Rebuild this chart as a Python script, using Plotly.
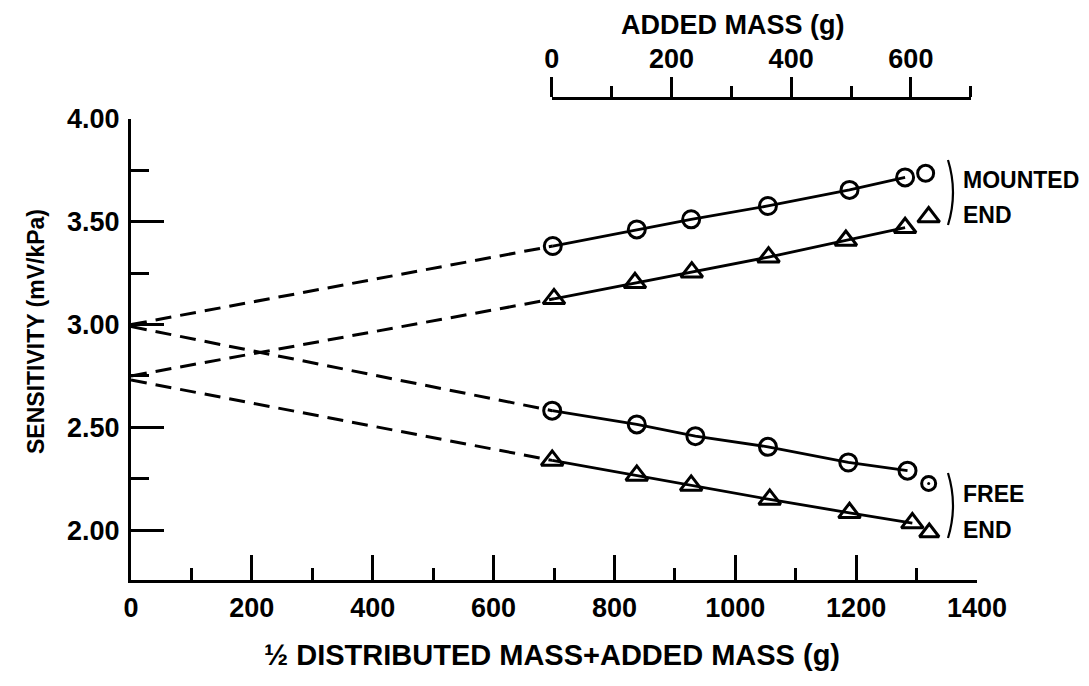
import plotly.graph_objects as go

# ---------------- data ----------------
# x: 1/2 distributed mass + added mass (g);  y: sensitivity (mV/kPa)
mounted_circle_x = [698, 837, 927, 1054, 1189, 1281]
mounted_circle_y = [3.382, 3.463, 3.512, 3.577, 3.655, 3.716]
mounted_circle_extra_x = [1315]
mounted_circle_extra_y = [3.736]

mounted_tri_x = [700, 834, 928, 1055, 1183, 1281]
mounted_tri_y = [3.125, 3.203, 3.255, 3.328, 3.409, 3.471]
mounted_tri_extra_x = [1320]
mounted_tri_extra_y = [3.523]

free_circle_x = [697, 837, 934, 1054, 1187, 1285]
free_circle_y = [2.581, 2.514, 2.457, 2.405, 2.329, 2.289]
free_circle_extra_x = [1320]
free_circle_extra_y = [2.227]

free_tri_x = [697, 837, 927, 1057, 1189, 1293]
free_tri_y = [2.339, 2.266, 2.217, 2.149, 2.084, 2.034]
free_tri_extra_x = [1321]
free_tri_extra_y = [1.988]

# extrapolated values at zero mass (dashed lines)
intercept_x = 0
intercepts = {"mc": 3.00, "fc": 2.99, "mt": 2.75, "ft": 2.73}

x_ticks = [0, 200, 400, 600, 800, 1000, 1200, 1400]
y_ticks = [2.00, 2.50, 3.00, 3.50, 4.00]
top_ticks = [0, 200, 400, 600]

FONT = "Liberation Sans, Arial, DejaVu Sans, sans-serif"
BLACK = "#000000"

fig = go.Figure()

series = [
    ("mc", mounted_circle_x, mounted_circle_y, mounted_circle_extra_x, mounted_circle_extra_y, "circle-open", 17, 16),
    ("mt", mounted_tri_x, mounted_tri_y, mounted_tri_extra_x, mounted_tri_extra_y, "triangle-up-open", 19, 19),
    ("fc", free_circle_x, free_circle_y, free_circle_extra_x, free_circle_extra_y, "circle-open", 17, 14),
    ("ft", free_tri_x, free_tri_y, free_tri_extra_x, free_tri_extra_y, "triangle-up-open", 19, 17),
]

for key, xs, ys, ex, ey, sym, size, esize in series:
    # dashed extrapolation to zero mass
    fig.add_trace(go.Scatter(
        x=[intercept_x, xs[0]], y=[intercepts[key], ys[0]], mode="lines",
        line=dict(color=BLACK, width=3, dash="16px,9px"),
        hoverinfo="skip", showlegend=False))
    # measured points joined by solid line
    fig.add_trace(go.Scatter(
        x=xs, y=ys, mode="lines+markers",
        line=dict(color=BLACK, width=2.8),
        marker=dict(symbol=sym, size=size, color=BLACK, line=dict(width=3, color=BLACK)),
        hoverinfo="skip", showlegend=False))
    # final separate point
    fig.add_trace(go.Scatter(
        x=ex, y=ey, mode="markers",
        marker=dict(symbol=sym, size=esize, color=BLACK, line=dict(width=3, color=BLACK)),
        hoverinfo="skip", showlegend=False))

# centre dot in the last free-end circle
fig.add_trace(go.Scatter(
    x=free_circle_extra_x, y=free_circle_extra_y, mode="markers",
    marker=dict(symbol="circle", size=3, color=BLACK),
    hoverinfo="skip", showlegend=False))

# dummy trace so the top axis is drawn
fig.add_trace(go.Scatter(x=[0, 700], y=[None, None], xaxis="x2", yaxis="y",
                         mode="markers", hoverinfo="skip", showlegend=False))

tickfont = dict(family=FONT, size=27, color=BLACK, weight="bold")

# the page body adds an 8 px offset; the figure is sized to fit the window
fig.update_layout(
    width=1081, height=678,
    margin=dict(l=123, r=112, t=90, b=106),
    paper_bgcolor="white", plot_bgcolor="rgba(0,0,0,0)",
    font=dict(family=FONT, color=BLACK),
    xaxis=dict(
        range=[0, 1400], showgrid=False, zeroline=False,
        showline=True, linecolor=BLACK, linewidth=3,
        ticks="inside", ticklen=25, tickwidth=2.8, tickcolor=BLACK,
        tickvals=x_ticks, ticktext=[str(v) for v in x_ticks],
        tickfont=tickfont, ticklabelstandoff=2,
        minor=dict(dtick=100, tick0=0, ticks="inside", ticklen=12, tickwidth=2.8, tickcolor=BLACK, showgrid=False),
    ),
    yaxis=dict(
        range=[1.757, 4.0], domain=[0, 0.9564], showgrid=False, zeroline=False,
        showline=True, linecolor=BLACK, linewidth=3,
        ticks="inside", ticklen=33, tickwidth=2.8, tickcolor=BLACK,
        tickvals=y_ticks, ticktext=["%.2f" % v for v in y_ticks],
        tickfont=tickfont, ticklabelstandoff=3,
        minor=dict(dtick=0.25, tick0=2.0, ticks="inside", ticklen=18, tickwidth=2.8, tickcolor=BLACK, showgrid=False),
    ),
    xaxis2=dict(
        range=[0, 700], domain=[0.4973, 0.9926], anchor="free", position=1.0, side="top",
        showgrid=False, zeroline=False,
        showline=True, linecolor=BLACK, linewidth=3,
        ticks="outside", ticklen=20, tickwidth=2.8, tickcolor=BLACK,
        tickvals=top_ticks, ticktext=[str(v) for v in top_ticks],
        tickfont=tickfont, ticklabelstandoff=-2,
        minor=dict(dtick=100, tick0=0, ticks="outside", ticklen=11, tickwidth=2.8, tickcolor=BLACK, showgrid=False),
    ),
)

def px_x(px):
    return (px - 131) / 846.0

def px_y(py):
    return (580 - py) / 482.0

annots = [
    dict(text="½ DISTRIBUTED MASS+ADDED MASS (g)", x=px_x(552), y=px_y(655), size=29, angle=0, xanchor="center"),
    dict(text="ADDED MASS (g)", x=px_x(733), y=px_y(25), size=27, angle=0, xanchor="center"),
    dict(text="SENSITIVITY (mV/kPa)", x=px_x(36), y=px_y(332), size=23, angle=-90, xanchor="center"),
    dict(text="MOUNTED", x=px_x(961), y=px_y(180), size=23, angle=0, xanchor="left"),
    dict(text="END", x=px_x(961), y=px_y(215), size=23, angle=0, xanchor="left"),
    dict(text="FREE", x=px_x(961), y=px_y(494), size=23, angle=0, xanchor="left"),
    dict(text="END", x=px_x(961), y=px_y(530), size=23, angle=0, xanchor="left"),
]
for a in annots:
    fig.add_annotation(text=a["text"], x=a["x"], y=a["y"], xref="paper", yref="paper",
                       xanchor=a["xanchor"], yanchor="middle", showarrow=False,
                       textangle=a["angle"],
                       font=dict(family=FONT, size=a["size"], color=BLACK, weight="bold"))

# braces grouping the labels
for top, bot in [(160, 225), (473, 538)]:
    x0 = px_x(948)
    xm = px_x(958)
    fig.add_shape(type="path", xref="paper", yref="paper",
                  path=f"M {x0},{px_y(top)} Q {xm},{px_y((top + bot) / 2)} {x0},{px_y(bot)}",
                  line=dict(color=BLACK, width=2.2))

fig.write_html("out.html")
